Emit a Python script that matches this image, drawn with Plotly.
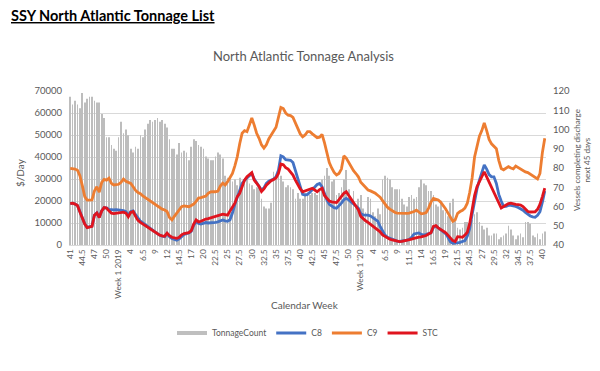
import plotly.graph_objects as go

tick_labels = ["41", "44.5", "47", "50", "Week 1 2019", "4", "6.5", "9", "12", "14.5",
               "17", "20", "22.5", "25", "27.5", "30", "32.5", "35", "37.5", "40",
               "42.5", "45", "47.5", "50", "Week 1 '20", "4", "6.5", "9", "11.5", "14",
               "16.5", "19", "21.5", "24.5", "27", "29.5", "32", "34.5", "37.5", "40"]

tonnage_count = [
    117, 113, 115, 113, 111, 119, 114, 116, 117,
    117, 115, 114, 114, 108, 106, 96, 96, 92, 90,
    89, 96, 104, 98, 100, 97, 90, 88, 91, 90,
    97, 96, 100, 103, 105, 104, 105, 106, 104, 105,
    103, 101, 95, 90, 90, 87, 93, 88, 89,
    88, 84, 91, 95, 94, 92, 91, 90, 86, 85,
    84, 84, 86, 88, 87, 85, 76, 75, 74, 73,
    74, 71, 75, 72, 72, 74, 72, 71, 69, 70,
    71, 64, 60, 59, 59, 62, 78, 74, 76,
    76, 73, 70, 71, 70, 69, 64, 67, 64, 64,
    67, 66, 66, 67, 67, 66, 69, 74, 76, 80,
    76, 73, 74, 66, 67, 70, 74, 79, 69, 62,
    68, 60, 64, 66, 59, 57, 65, 64, 57,
    55, 59, 56, 74, 76, 75, 74, 70, 69, 69,
    69, 64, 61, 60, 65, 66, 64, 65, 70, 74,
    72, 71, 68, 68, 66, 61, 60, 63, 58, 57,
    55, 62, 64, 53, 49, 48, 49, 52, 52,
    53, 53, 56, 57, 52, 50, 48, 49, 45, 45,
    46, 46, 43, 44, 45, 46, 50, 48, 45, 43,
    45, 46, 44, 52, 52, 51, 45, 44, 46, 43,
    46, 47]

c8 = [
    18800, 19000, 18600, 18000, 15200, 12200, 9600, 8000, 8200,
    8600, 13500, 14600, 12600, 15600, 17000, 16900, 16200, 16000, 16000,
    16100, 16000, 15800, 15600, 15200, 13500, 15200, 15500, 13800, 12000,
    10800, 10000, 9200, 8200, 7500, 6600, 5800, 5000, 4400, 4000,
    3800, 5200, 3800, 3000, 2500, 2200, 2800, 4000, 4800,
    5200, 5500, 6200, 9000, 10600, 9800, 9500, 10000, 10200, 10000,
    10000, 10200, 10300, 10500, 11000, 11400, 11000, 10800, 11500, 14500,
    18500, 22000, 25500, 28000, 29500, 30500, 31500, 32500, 30000, 28500,
    27000, 25000, 26000, 28000, 29000, 29500, 30000, 31000, 34000,
    40500, 40000, 38800, 38600, 38500, 37500, 34000, 30000, 26000, 23000,
    22700, 23000, 24000, 25200, 26500, 27500, 28000, 26500, 23500, 20500,
    18500, 17600, 17000, 16700, 17800, 19000, 20500, 21200, 20500, 19500,
    18800, 17800, 16800, 14200, 13700, 13600, 13600, 13200, 12500,
    11800, 10800, 8500, 6200, 4500, 3500, 3000, 2500, 2100, 1800,
    1600, 1700, 1900, 2200, 2500, 3500, 5000, 5300, 5500, 4800,
    4500, 4800, 5200, 5500, 8000, 8500, 7800, 7000, 6200, 5200,
    3500, 1500, 800, 800, 1000, 1200, 1500, 2000, 4000,
    7500, 14000, 20500, 25500, 29500, 33000, 36400, 34500, 32000, 31000,
    31000, 28000, 23000, 20000, 17500, 17600, 18000, 18000, 17800, 17500,
    17000, 16500, 15800, 14800, 13800, 13200, 12800, 12600, 13500, 15100,
    19500, 24500]

c9 = [
    34800, 34700, 34500, 34000, 31500, 27000, 22000, 20400, 20300,
    20500, 24500, 26500, 24000, 28500, 29800, 29500, 30400, 28000, 27300,
    27400, 27600, 28500, 30000, 29000, 28600, 28000, 26500, 24800, 23800,
    23300, 22300, 21500, 20800, 20200, 19300, 18500, 17800, 17000, 16300,
    15900, 15200, 12500, 11400, 13000, 14500, 16000, 17400, 17800,
    17600, 17400, 18000, 18600, 19800, 21300, 21500, 21700, 22200, 23500,
    24200, 24300, 24200, 24500, 26800, 28100, 27300, 28800, 30400, 32500,
    36000, 40100, 46000, 50800, 52000, 51500, 54500, 57700, 54500, 50800,
    48500, 45500, 44000, 45500, 48200, 50000, 52000, 53500, 58000,
    62500, 62000, 60000, 59000, 58800, 58000, 55500, 53000, 50500, 49200,
    50000, 51500, 51500, 50500, 49800, 48800, 49000, 50300, 46500, 41500,
    37500, 35000, 33000, 31800, 32500, 34500, 40500, 39500, 37500, 35500,
    33800, 32500, 31000, 28500, 27300, 26000, 25000, 24600, 24200,
    23500, 22600, 21700, 20200, 18500, 17200, 16300, 15500, 14900, 14500,
    14400, 14400, 14300, 14400, 14500, 14800, 15200, 15800, 15000, 14200,
    14400, 14700, 16800, 19500, 21200, 21000, 20500, 19500, 18200, 16500,
    14600, 12800, 10800, 11500, 14400, 15200, 15800, 16800, 19000,
    24000, 30500, 40000, 45500, 49500, 52000, 55500, 52000, 48000, 46000,
    45000, 43800, 38500, 34800, 34200, 34800, 35600, 35000, 34600, 35900,
    35200, 34200, 33600, 33200, 32900, 32200, 31400, 30800, 30000, 32500,
    42000, 48500]

stc = [
    18800, 19000, 18600, 18000, 15000, 12000, 9500, 7900, 8100,
    8500, 13500, 14500, 12500, 15500, 17000, 16800, 15500, 14500, 14300,
    14500, 14600, 14800, 14900, 14500, 12800, 14800, 15200, 13000, 11200,
    10300, 9600, 8800, 8000, 7400, 6500, 5800, 5000, 4500, 4200,
    4000, 5400, 4200, 3500, 3200, 3000, 3500, 4600, 5200,
    5400, 5600, 6500, 9500, 11400, 10500, 10800, 11400, 11800, 12000,
    12300, 12600, 12800, 13200, 13700, 14000, 13800, 13600, 15500, 17000,
    19000, 22000, 23500, 26500, 29500, 31000, 32200, 32900, 29500, 28000,
    26600, 24300, 25500, 27200, 28300, 29200, 29800, 30500, 32500,
    36800, 36500, 35200, 34500, 33300, 31800, 29500, 27500, 25500, 24200,
    24600, 25100, 25500, 25800, 25000, 24200, 25200, 25800, 22500, 21200,
    20000, 19600, 19400, 19300, 20600, 22000, 23500, 24200, 22500, 20600,
    19200, 17500, 16000, 13000, 11800, 11000, 10300, 9500, 8800,
    8000, 7200, 6000, 4600, 3800, 3000, 2600, 2300, 2000, 1700,
    1500, 1600, 1800, 2100, 2400, 2700, 3000, 3400, 3600, 3700,
    3900, 4300, 5000, 5600, 8500, 8800, 7800, 7200, 6500, 5700,
    4500, 3000, 2000, 1600, 3800, 3700, 3500, 4500, 5800,
    9800, 17000, 22500, 26500, 29000, 31500, 33300, 31000, 28500, 26000,
    23800, 21500, 18500, 16800, 17500, 18200, 18800, 19000, 18600, 18500,
    18400, 18200, 17500, 16200, 15200, 15000, 15000, 15100, 16200, 18500,
    22000, 25800]

N = len(tonnage_count)
assert len(c8) == N and len(c9) == N and len(stc) == N, (N, len(c8), len(c9), len(stc))

idx = list(range(N))
tick_pos = list(range(0, 5 * len(tick_labels), 5))

FONT = "Lato"
GREY = "#595959"
BAR_GREY = "#BDBDBD"

# The page body has an 8px default margin, so the figure is drawn 8px in from the
# window's top-left; size it to fit the window and lay out in window pixels.
OFF = 8
FIG_W, FIG_H = 600 - OFF, 371 - OFF
# plot area in window pixels
L, R, T, B = 69, 546, 91, 245
PW, PH = R - L, B - T


def px(xp):
    return (xp - L) / PW


def py(yp):
    return (B - yp) / PH


fig = go.Figure()
# bars on the primary (right-side) axis so they sit beneath the lines
fig.add_trace(go.Bar(x=idx, y=tonnage_count, name="TonnageCount", yaxis="y",
                     marker=dict(color=BAR_GREY, line=dict(width=0)),
                     showlegend=False, legendgroup="tc"))
# legend entry for the bars, drawn as a short thick grey stroke like the reference
fig.add_trace(go.Scatter(x=[None], y=[None], name="TonnageCount", mode="lines",
                         line=dict(color="#BFBFBF", width=4), yaxis="y2",
                         legendgroup="tc"))
fig.add_trace(go.Scatter(x=idx, y=c8, name="C8", mode="lines", yaxis="y2",
                         line=dict(color="#4472C4", width=2.8)))
fig.add_trace(go.Scatter(x=idx, y=c9, name="C9", mode="lines", yaxis="y2",
                         line=dict(color="#ED7D31", width=2.8)))
fig.add_trace(go.Scatter(x=idx, y=stc, name="STC", mode="lines", yaxis="y2",
                         line=dict(color="#E0141E", width=2.8)))

fig.update_layout(
    width=FIG_W, height=FIG_H,
    margin=dict(l=L - OFF, r=FIG_W - (R - OFF), t=T - OFF, b=FIG_H - (B - OFF),
                autoexpand=False),
    paper_bgcolor="white", plot_bgcolor="white",
    font=dict(family=FONT, color=GREY, size=9),
    bargap=0.7,
    showlegend=True,
    legend=dict(orientation="h", x=0.5, xanchor="center", y=py(333), yanchor="middle",
                font=dict(size=8.5, color=GREY), traceorder="normal",
                itemwidth=30, bgcolor="rgba(0,0,0,0)"),
    xaxis=dict(range=[-0.5, N - 0.5], tickmode="array", tickvals=tick_pos,
               ticktext=tick_labels, tickangle=-90, showgrid=False, automargin=False,
               showline=True, linecolor="#D9D9D9", ticks="", zeroline=False,
               tickfont=dict(size=8.3, color=GREY)),
    yaxis=dict(range=[40, 120], dtick=10, side="right", automargin=False,
               showgrid=False, zeroline=False, ticks="",
               tickfont=dict(size=9.5, color=GREY), ticklabelstandoff=6),
    yaxis2=dict(range=[0, 70000], dtick=10000, overlaying="y", side="left",
                automargin=False, showgrid=True, gridcolor="#D9D9D9",
                gridwidth=1, zeroline=False, ticks="", tickformat="d",
                tickfont=dict(size=9.5, color=GREY), ticklabelstandoff=6),
    annotations=[
        dict(text="<b>SSY North Atlantic Tonnage List</b>", xref="paper", yref="paper",
             x=px(OFF + 1), y=py(16), xanchor="left", yanchor="middle",
             showarrow=False, font=dict(family=FONT, size=14.5, color="black",
                                         lineposition="under")),
        dict(text="North Atlantic Tonnage Analysis", xref="paper", yref="paper",
             x=px(303), y=py(56), xanchor="center", yanchor="middle", showarrow=False,
             font=dict(family=FONT, size=13, color=GREY)),
        dict(text="$/Day", xref="paper", yref="paper", x=px(20), y=py(173),
             textangle=-90, showarrow=False, xanchor="center", yanchor="middle",
             font=dict(size=10, color=GREY)),
        dict(text="Vessels completing discharge<br>next 45 days", xref="paper", yref="paper",
             x=px(582), y=py(160), textangle=-90, showarrow=False,
             xanchor="center", yanchor="middle", font=dict(size=8, color=GREY)),
        dict(text="Calendar Week", xref="paper", yref="paper", x=px(305), y=py(305),
             showarrow=False, xanchor="center", yanchor="middle",
             font=dict(size=10, color=GREY)),
    ],
)

fig.write_html("out.html")
